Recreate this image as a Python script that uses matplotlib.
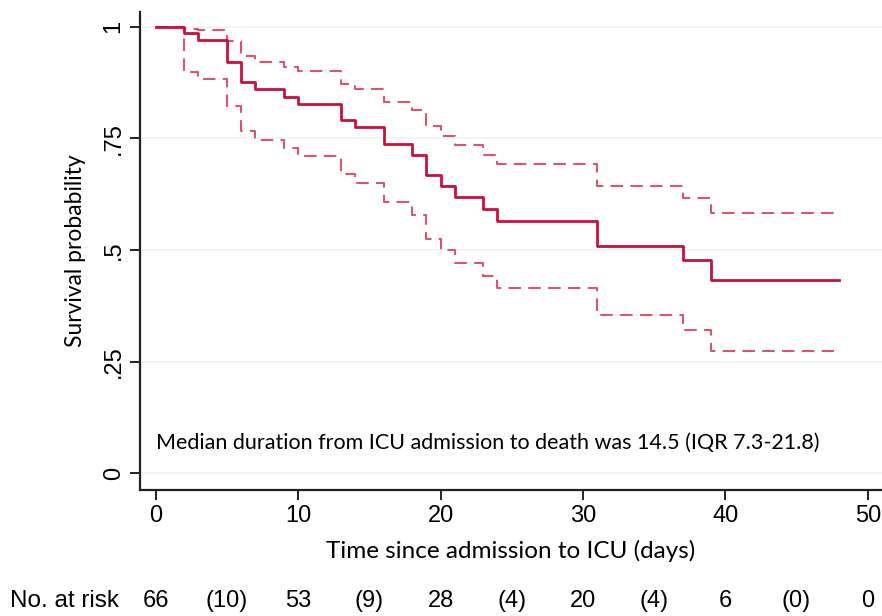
import numpy as np
import matplotlib
matplotlib.use('Agg')
import matplotlib.pyplot as plt
import matplotlib.transforms as mtransforms


# Kaplan-Meier estimate with 95% CI
times = [0, 2, 3, 5, 6, 7, 9, 10, 13, 14, 16, 18, 19, 20, 21, 23, 24, 31, 37, 39, 48]
surv = [1, 0.985, 0.970, 0.922, 0.877, 0.860, 0.843, 0.826, 0.792, 0.775, 0.738,
        0.714, 0.668, 0.644, 0.618, 0.592, 0.566, 0.509, 0.477, 0.434, 0.434]
upper = [1, 0.995, 0.992, 0.967, 0.935, 0.922, 0.911, 0.900, 0.872, 0.861, 0.832,
         0.814, 0.777, 0.756, 0.736, 0.714, 0.693, 0.644, 0.616, 0.583, 0.583]
lower = [1, 0.898, 0.883, 0.823, 0.766, 0.747, 0.729, 0.710, 0.670, 0.650, 0.607,
         0.579, 0.525, 0.500, 0.471, 0.443, 0.415, 0.354, 0.321, 0.274, 0.274]

xticks = [0, 10, 20, 30, 40, 50]
yticks = [0, 0.25, 0.5, 0.75, 1]
ytick_labels = ['0', '.25', '.5', '.75', '1']

# number at risk row (counts at 0,10,..; events in brackets between)
risk_times = [0, 5, 10, 15, 20, 25, 30, 35, 40, 45, 50]
risk_labels = ['66', '(10)', '53', '(9)', '28', '(4)', '20', '(4)', '6', '(0)', '0']

note = 'Median duration from ICU admission to death was 14.5 (IQR 7.3-21.8)'

num_font = ['Liberation Sans', 'DejaVu Sans']
txt_font = ['Lato', 'DejaVu Sans']

fig = plt.figure(figsize=(8.82, 6.16), dpi=100)
ax = fig.add_axes([140/882, 1 - 490/616, 742/882, 478/616])

main_col = '#C8103C'
ci_col = '#DB5470'

for yv in yticks:
    ax.axhline(yv, color='#EDF3F3', lw=1.2, zorder=0)

ax.step(times, upper, where='post', color=ci_col, lw=1.5, dashes=(6, 3.5), zorder=2)
ax.step(times, lower, where='post', color=ci_col, lw=1.5, dashes=(6, 3.5), zorder=2)
ax.step(times, surv, where='post', color=main_col, lw=2.0, zorder=3)

ax.set_xlim(-1.1, 51.0)
ax.set_ylim(-0.037, 1.033)

ax.spines['top'].set_visible(False)
ax.spines['right'].set_visible(False)
for s in ['left', 'bottom']:
    ax.spines[s].set_linewidth(1.6)
    ax.spines[s].set_color('#222222')

ax.set_xticks(xticks)
ax.set_xticklabels([str(v) for v in xticks], family=num_font, fontsize=17)
ax.set_yticks(yticks)
ax.set_yticklabels(ytick_labels, family=num_font, fontsize=17, rotation=90, va='center')
ax.tick_params(length=7, width=1.4, color='#222222', pad=4)

ax.set_xlabel('Time since admission to ICU (days)', family=txt_font, fontsize=17.5,
              labelpad=9)
ax.set_ylabel('Survival probability', family=txt_font, fontsize=16.5, labelpad=12)

ax.text(0.05, 0.068, note, family=txt_font, fontsize=15.5, va='center', ha='left')

# risk table under the axis
trans = mtransforms.blended_transform_factory(ax.transData, fig.transFigure)
fig.text(10/882, 1 - 601/616, 'No. at risk', family=num_font, fontsize=17.5, va='center')
for t, lab in zip(risk_times, risk_labels):
    ax.text(t, 1 - 601/616, lab, transform=trans, family=num_font, fontsize=17,
            ha='center', va='center', clip_on=False)

fig.savefig('out.png', dpi=100)
